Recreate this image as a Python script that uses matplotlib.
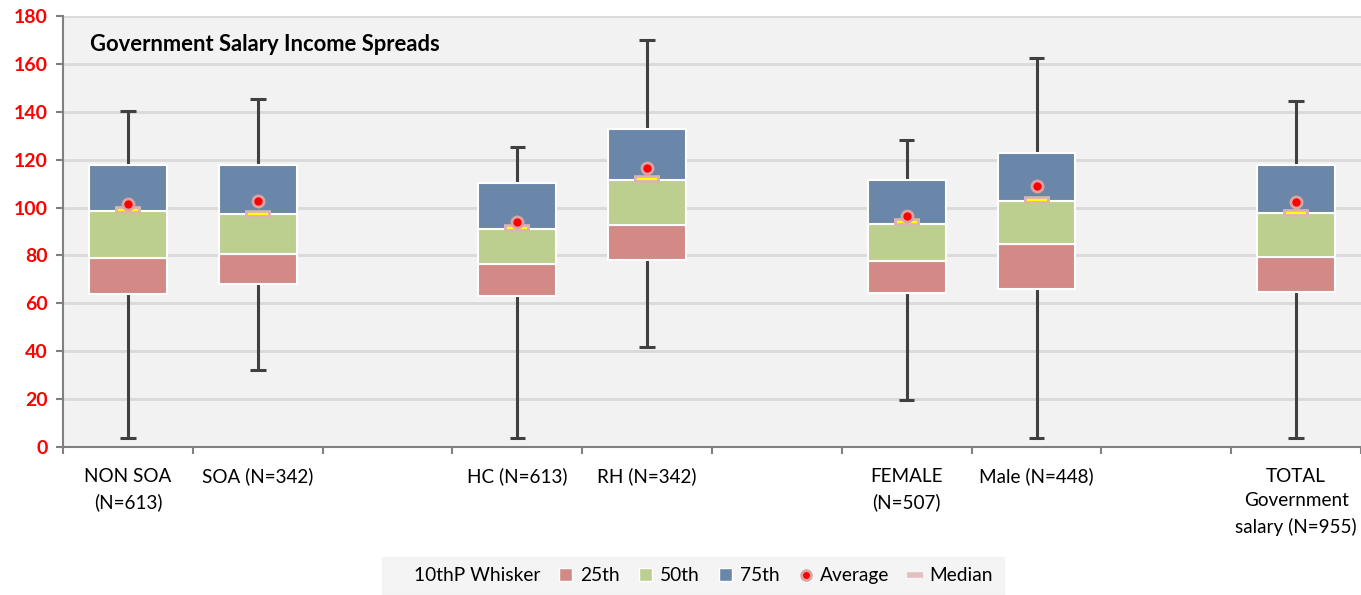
import numpy as np
import matplotlib.pyplot as plt
from matplotlib.lines import Line2D
from matplotlib.patches import Patch

plt.rcParams['font.family'] = ['Lato', 'DejaVu Sans']

# groups, with empty slots left between them on the x axis
labels = ['NON SOA\n(N=613)', 'SOA (N=342)', '', 'HC (N=613)', 'RH (N=342)', '',
          'FEMALE\n(N=507)', 'Male (N=448)', '', 'TOTAL\nGovernment\nsalary (N=955)']
slots = [0, 1, 3, 4, 6, 7, 9]

whisker_lo = [3.6, 32.0, 3.6, 41.9, 19.7, 3.8, 3.6]
p25 = [63.8, 67.9, 63.1, 78.1, 64.4, 65.8, 64.7]
p50 = [78.8, 80.7, 76.3, 92.5, 77.6, 84.6, 79.3]
p75 = [98.5, 97.2, 91.1, 111.4, 93.3, 102.9, 97.6]
box_hi = [117.6, 117.9, 110.3, 132.9, 111.7, 122.6, 117.8]
whisker_hi = [140.3, 145.3, 125.1, 169.9, 128.1, 162.6, 144.4]
average = [101.5, 102.9, 94.1, 116.7, 96.4, 108.8, 102.1]
median = [98.9, 97.4, 91.5, 112.0, 94.0, 103.1, 97.8]

c_red = '#d38a87'
c_green = '#bccf8f'
c_blue = '#6a86a8'

fig = plt.figure(figsize=(13.61, 5.95), dpi=100)
fig.patch.set_facecolor('white')
ax = fig.add_axes([0.0463, 0.249, 0.9537, 0.724])
ax.set_facecolor('#f2f2f2')

x = np.array(slots, dtype=float)
lo = np.array(whisker_lo)
hi = np.array(whisker_hi)

# whiskers behind the boxes
ax.vlines(x, lo, hi, color='#404040', lw=2.2, zorder=2)
ax.hlines(lo, x - 0.06, x + 0.06, color='#404040', lw=2.2, zorder=2)
ax.hlines(hi, x - 0.06, x + 0.06, color='#404040', lw=2.2, zorder=2)

w = 0.6
ax.bar(x, np.array(p50) - np.array(p25), bottom=p25, width=w, color=c_red,
       edgecolor='white', lw=1.5, zorder=3)
ax.bar(x, np.array(p75) - np.array(p50), bottom=p50, width=w, color=c_green,
       edgecolor='white', lw=1.5, zorder=3)
ax.bar(x, np.array(box_hi) - np.array(p75), bottom=p75, width=w, color=c_blue,
       edgecolor='white', lw=1.5, zorder=3)

# median marker: pink bar with a yellow stripe
ax.plot(x, median, ls='none', marker='_', ms=19, mew=5.5, mec='#dcb3b3', zorder=4)
ax.plot(x, median, ls='none', marker='_', ms=14, mew=1.6, mec='#ffff00', zorder=5)
ax.plot(x, average, ls='none', marker='o', ms=8, mfc='#ff0000', mec='#dba3a3', mew=2, zorder=6)

ax.set_xlim(-0.5, 9.5)
ax.set_ylim(0, 180)
ax.set_yticks(np.arange(0, 181, 20))
ax.set_yticklabels([str(v) for v in range(0, 181, 20)], color='#ff0000',
                   fontweight='bold', fontsize=14)
ax.set_xticks(np.arange(10))
ax.set_xticklabels(labels, fontsize=13.6, va='top', linespacing=1.55)
ax.set_xticks(np.arange(-0.5, 10, 1), minor=True)
ax.tick_params(axis='x', which='major', length=0, pad=15)
ax.tick_params(axis='x', which='minor', length=5, color='#808080', width=1.5)
ax.tick_params(axis='y', length=5, color='#808080', width=1.5, pad=6)
ax.grid(axis='y', color='#d9d9d9', lw=2)
ax.set_axisbelow(True)
for s in ['top', 'right']:
    ax.spines[s].set_visible(False)
for s in ['left', 'bottom']:
    ax.spines[s].set_color('#808080')
    ax.spines[s].set_linewidth(1.5)

ax.text(0.0205, 0.935, 'Government Salary Income Spreads', transform=ax.transAxes,
        fontsize=15.8, fontweight='bold', va='center')

handles = [
    Line2D([], [], ls='none'),
    Patch(facecolor=c_red, edgecolor='white'),
    Patch(facecolor=c_green, edgecolor='white'),
    Patch(facecolor=c_blue, edgecolor='white'),
    Line2D([], [], ls='none', marker='o', ms=7, mfc='#ff0000', mec='#dba3a3', mew=2),
    Line2D([], [], ls='none', marker='_', ms=12, mew=4, mec='#e3c0c0'),
]
names = ['10thP Whisker', '25th', '50th', '75th', 'Average', 'Median']
leg = fig.legend(handles, names, loc='center', bbox_to_anchor=(0.509, 0.032),
                 ncol=6, frameon=True, fontsize=13.8, handlelength=0.7, handleheight=0.7,
                 handletextpad=0.4, columnspacing=1.0, borderpad=0.55, fancybox=False)
leg.get_frame().set_facecolor('#f2f2f2')
leg.get_frame().set_edgecolor('#f2f2f2')

plt.savefig('out.png', dpi=100)
